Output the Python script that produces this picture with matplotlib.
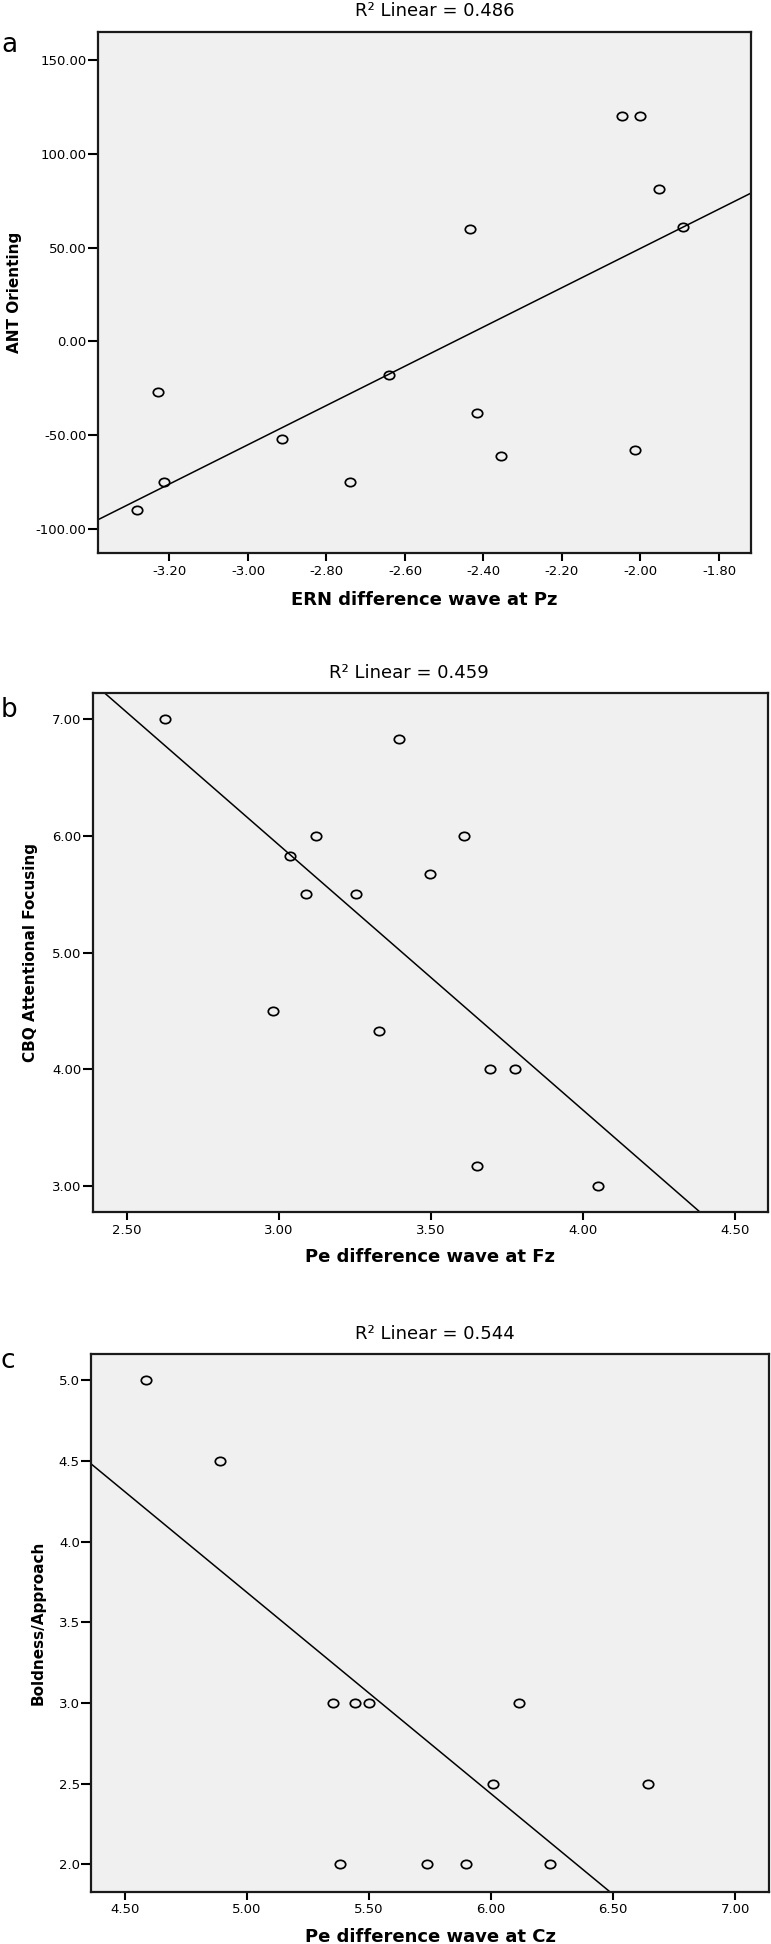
import matplotlib
matplotlib.use("Agg")
import matplotlib.pyplot as plt
import numpy as np
from matplotlib.path import Path
from matplotlib.transforms import Affine2D
from matplotlib.markers import MarkerStyle
from matplotlib.ticker import FormatStrFormatter

plt.rcParams['font.family'] = ['DejaVu Sans']
plt.rcParams['axes.unicode_minus'] = False

# ---------------- data ----------------
a_x = [-3.283, -3.228, -3.213, -2.913, -2.739, -2.640, -2.434, -2.417, -2.355,
       -2.048, -2.001, -2.013, -1.952, -1.892]
a_y = [-90, -27, -75, -52, -75, -18, 60, -38, -61, 120, 120, -58, 81, 61]

b_x = [2.625, 3.397, 3.122, 3.609, 3.037, 3.497, 3.091, 3.253, 2.981, 3.330,
       3.695, 3.776, 3.652, 4.049]
b_y = [7.00, 6.83, 6.00, 6.00, 5.83, 5.67, 5.50, 5.50, 4.50, 4.33, 4.00, 4.00,
       3.17, 3.00]

c_x = [4.585, 4.891, 5.351, 5.442, 5.499, 6.114, 6.008, 6.641, 5.379, 5.736,
       5.895, 6.242]
c_y = [5.0, 4.5, 3.0, 3.0, 3.0, 3.0, 2.5, 2.5, 2.0, 2.0, 2.0, 2.0]

titles = ["R\u00b2 Linear = 0.486", "R\u00b2 Linear = 0.459", "R\u00b2 Linear = 0.544"]
letters = ["a", "b", "c"]
xlabels = ["ERN difference wave at Pz", "Pe difference wave at Fz", "Pe difference wave at Cz"]
ylabels = ["ANT Orienting", "CBQ Attentional Focusing", "Boldness/Approach"]

a_xticks = [-3.20, -3.00, -2.80, -2.60, -2.40, -2.20, -2.00, -1.80]
a_yticks = [-100, -50, 0, 50, 100, 150]
b_xticks = [2.50, 3.00, 3.50, 4.00, 4.50]
b_yticks = [3.00, 4.00, 5.00, 6.00, 7.00]
c_xticks = [4.50, 5.00, 5.50, 6.00, 6.50, 7.00]
c_yticks = [2.0, 2.5, 3.0, 3.5, 4.0, 4.5, 5.0]

# ---------------- layout (pixels) ----------------
W, H = 771, 1944
fig = plt.figure(figsize=(W / 100, H / 100), dpi=100)

panels = [
    dict(x=a_x, y=a_y, box=(98, 751, 32, 553), xlim=(-3.382, -1.7185), ylim=(-112.8, 164.9),
         xt=a_xticks, yt=a_yticks, xf="%.2f", yf="%.2f", tx=0.516, letter_y=52,
         ylab_x=-0.1286, xlab_y=-0.090),
    dict(x=b_x, y=b_y, box=(92.7, 768.3, 693.3, 1212), xlim=(2.388, 4.611), ylim=(2.777, 7.223),
         xt=b_xticks, yt=b_yticks, xf="%.2f", yf="%.2f", tx=0.468, letter_y=717,
         ylab_x=-0.0928, xlab_y=-0.0868),
    dict(x=c_x, y=c_y, box=(91, 769.3, 1354, 1891.7), xlim=(4.361, 7.139), ylim=(1.830, 5.163),
         xt=c_xticks, yt=c_yticks, xf="%.2f", yf="%.1f", tx=0.507, letter_y=1368,
         ylab_x=-0.0781, xlab_y=-0.0842),
]

ellipse = Path.unit_circle().transformed(Affine2D().scale(1.0, 0.8))
mk = MarkerStyle(ellipse)

for i, p in enumerate(panels):
    l, r, t, b = p["box"]
    ax = fig.add_axes([l / W, 1 - b / H, (r - l) / W, (b - t) / H])
    ax.set_facecolor("#f0f0f0")
    xs = np.array(p["x"], dtype=float)
    ys = np.array(p["y"], dtype=float)
    ax.plot(xs, ys, linestyle="none", marker=mk, markersize=7.5,
            markerfacecolor="none", markeredgecolor="black", markeredgewidth=1.25,
            zorder=3)
    slope, icpt = np.polyfit(xs, ys, 1)
    lx = np.array(p["xlim"])
    ax.plot(lx, slope * lx + icpt, color="black", linewidth=1.1, zorder=2)
    ax.set_xlim(*p["xlim"])
    ax.set_ylim(*p["ylim"])
    ax.set_xticks(p["xt"])
    ax.set_yticks(p["yt"])
    ax.xaxis.set_major_formatter(FormatStrFormatter(p["xf"]))
    ax.yaxis.set_major_formatter(FormatStrFormatter(p["yf"]))
    ax.tick_params(axis="x", direction="out", length=5.8, width=1.5, pad=2.5,
                   labelsize=9.5, colors="black")
    ax.tick_params(axis="y", direction="out", length=7.5, width=1.5, pad=0.6,
                   labelsize=9.5, colors="black")
    for s in ax.spines.values():
        s.set_linewidth(1.6)
        s.set_color("#1a1a1a")
    ax.set_xlabel(xlabels[i], fontsize=13, fontweight="bold", va="center")
    ax.xaxis.set_label_coords(0.5, p["xlab_y"])
    ax.set_ylabel(ylabels[i], fontsize=11, fontweight="bold", va="center")
    ax.yaxis.set_label_coords(p["ylab_x"], 0.5)
    ax.set_title(titles[i], fontsize=13, pad=0, y=1 + 15.5 / (b - t))
    ax.title.set_x(p["tx"])
    fig.text(1 / W, 1 - p["letter_y"] / H, letters[i], fontsize=19,
             ha="left", va="baseline")

fig.savefig("out.png", dpi=100)
